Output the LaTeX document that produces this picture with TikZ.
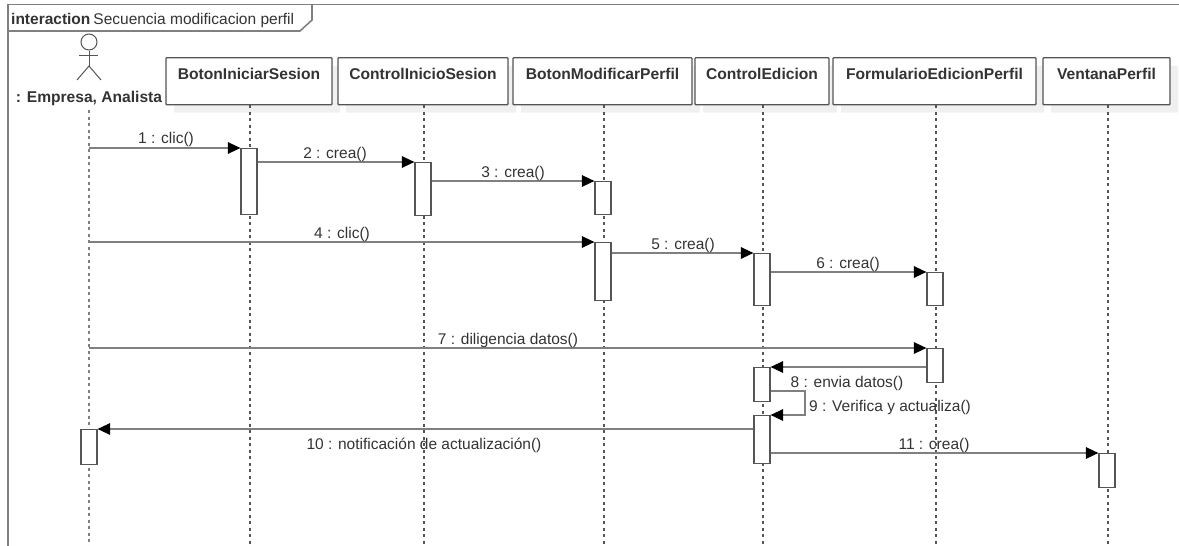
\documentclass[tikz,border=0pt]{standalone}
\usepackage{fontspec}
\setmainfont{Liberation Sans}
\usepackage{tikz}
\usetikzlibrary{arrows.meta,positioning,shadows,calc}
\definecolor{umlline}{HTML}{555555}
\definecolor{umlgrey}{HTML}{808080}
\definecolor{umltext}{HTML}{333333}
\tikzset{
    objbox/.style={draw=umlline, line width=1.3pt, fill=white, rounded corners=0.8pt, anchor=north,
        font=\fontsize{15.6}{18}\selectfont\bfseries, text=umltext, inner xsep=0pt, inner ysep=0pt,
        text height=22pt, text depth=25pt,
        drop shadow={shadow xshift=8pt, shadow yshift=-8pt, fill=black!6, opacity=1}},
    lifeline/.style={umlline, line width=1.2pt, dash pattern=on 3pt off 3.5pt},
    actorlife/.style={umlgrey, line width=1.4pt, dash pattern=on 3pt off 3.5pt},
    activation/.style={draw=umlline, line width=1.2pt, fill=white, minimum width=16pt, inner sep=0pt, anchor=north},
    msg/.style={umlgrey, line width=1.4pt, -{Triangle[length=12.5pt, width=11.5pt, color=black, fill=black]}},
    msglabel/.style={font=\fontsize{15.5}{18}\selectfont, text=umltext, inner sep=0pt},
    framebox/.style={umlgrey, line width=1.6pt},
    actorline/.style={umlline, line width=1pt}
}

\begin{document}
\begin{tikzpicture}[x=1pt, y=-1pt]
    \useasboundingbox (0,0) rectangle (1179,546);
    % frame
    \draw[framebox] (8,546) -- (8,4.5) -- (1179,4.5);
    \draw[framebox] (8,31) -- (300,31) -- (312,20) -- (312,4.5);
    \node[msglabel, anchor=base west] (frametitle) at (11,24) {\textbf{interaction}\hspace{3pt}Secuencia modificacion perfil};

    % actor
    \node[draw=umlline, line width=1pt, circle, minimum size=16pt, inner sep=0pt] (head) at (89,42) {};
    \coordinate (hip) at (89,66);
    \coordinate (footL) at (77,80);
    \coordinate (footR) at (101,80);
    \coordinate (armL) at (79,55);
    \coordinate (armR) at (98,55);
    \draw[actorline] (head) -- (hip);
    \draw[actorline] (armL) -- (armR);
    \draw[actorline] (footL) -- (hip) -- (footR);
    \node[msglabel, font=\fontsize{15.6}{18}\selectfont\bfseries] (actor) at (89,98) {: Empresa, Analista};

    % objects
    \node[objbox, minimum width=166pt] (iniciar) at (249,57) {BotonIniciarSesion};
    \node[objbox, minimum width=170pt] (control) at (423,57) {ControlInicioSesion};
    \node[objbox, minimum width=179pt] (modificar) at (602.5,57) {BotonModificarPerfil};
    \node[objbox, minimum width=134pt] (edicion) at (762,57) {ControlEdicion};
    \node[objbox, minimum width=203pt] (formulario) at (934.5,57) {FormularioEdicionPerfil};
    \node[objbox, minimum width=127pt] (ventana) at (1106.5,57) {VentanaPerfil};

    % lifelines
    \coordinate (endActor) at (89,546);
    \coordinate (endIniciar) at (250,546);
    \coordinate (endControl) at (424,546);
    \coordinate (endModificar) at (604,546);
    \coordinate (endEdicion) at (763,546);
    \coordinate (endFormulario) at (936,546);
    \coordinate (endVentana) at (1108,546);
    \draw[actorlife] (89,110) -- (endActor);
    \draw[lifeline] (endIniciar |- iniciar.south) -- (endIniciar);
    \draw[lifeline] (endControl |- control.south) -- (endControl);
    \draw[lifeline] (endModificar |- modificar.south) -- (endModificar);
    \draw[lifeline] (endEdicion |- edicion.south) -- (endEdicion);
    \draw[lifeline] (endFormulario |- formulario.south) -- (endFormulario);
    \draw[lifeline] (endVentana |- ventana.south) -- (endVentana);

    % activations
    \node[activation, minimum height=66pt] (act1) at (249,148) {};
    \node[activation, minimum height=53pt] (act2) at (423,162) {};
    \node[activation, minimum height=33pt] (act3) at (603,181) {};
    \node[activation, minimum height=58pt] (act4) at (603,242) {};
    \node[activation, minimum height=52pt] (act5) at (762,253) {};
    \node[activation, minimum height=33pt] (act6) at (935,272) {};
    \node[activation, minimum height=34pt] (act7) at (935,348) {};
    \node[activation, minimum height=34pt] (act8) at (762,367) {};
    \node[activation, minimum height=48pt] (act9) at (762,415) {};
    \node[activation, minimum height=35pt] (act10) at (89,429) {};
    \node[activation, minimum height=34pt] (act11) at (1107,453) {};

    % messages
    \draw[msg] (endActor |- act1.north) -- (act1.north west);
    \draw[msg] (act1.east |- act2.north) -- (act2.north west);
    \draw[msg] (act2.east |- act3.north) -- (act3.north west);
    \draw[msg] (endActor |- act4.north) -- (act4.north west);
    \draw[msg] (act4.east |- act5.north) -- (act5.north west);
    \draw[msg] (act5.east |- act6.north) -- (act6.north west);
    \draw[msg] (endActor |- act7.north) -- (act7.north west);
    \draw[msg] (act7.west |- act8.north) -- (act8.north east);
    \draw[msg] (act8.east |- 0,391) -- (805,391) -- (805,415) -- (act9.north east);
    \draw[msg] (act9.west |- act10.north) -- (act10.north east);
    \draw[msg] (act9.east |- act11.north) -- (act11.north west);

    % message labels
    \node[msglabel] (lab1) at (166,139) {1 : clic()};
    \node[msglabel] (lab2) at (335,154) {2 : crea()};
    \node[msglabel] (lab3) at (513,173) {3 : crea()};
    \node[msglabel] (lab4) at (342,234) {4 : clic()};
    \node[msglabel] (lab5) at (683,245) {5 : crea()};
    \node[msglabel] (lab6) at (848,264) {6 : crea()};
    \node[msglabel] (lab7) at (508,340) {7 : diligencia datos()};
    \node[msglabel] (lab8) at (847,383) {8 : envia datos()};
    \node[msglabel, anchor=west] (lab9) at (809,407) {9 : Verifica y actualiza()};
    \node[msglabel] (lab10) at (424,445) {10 : notificación de actualización()};
    \node[msglabel] (lab11) at (934,445) {11 : crea()};
\end{tikzpicture}
\end{document}
